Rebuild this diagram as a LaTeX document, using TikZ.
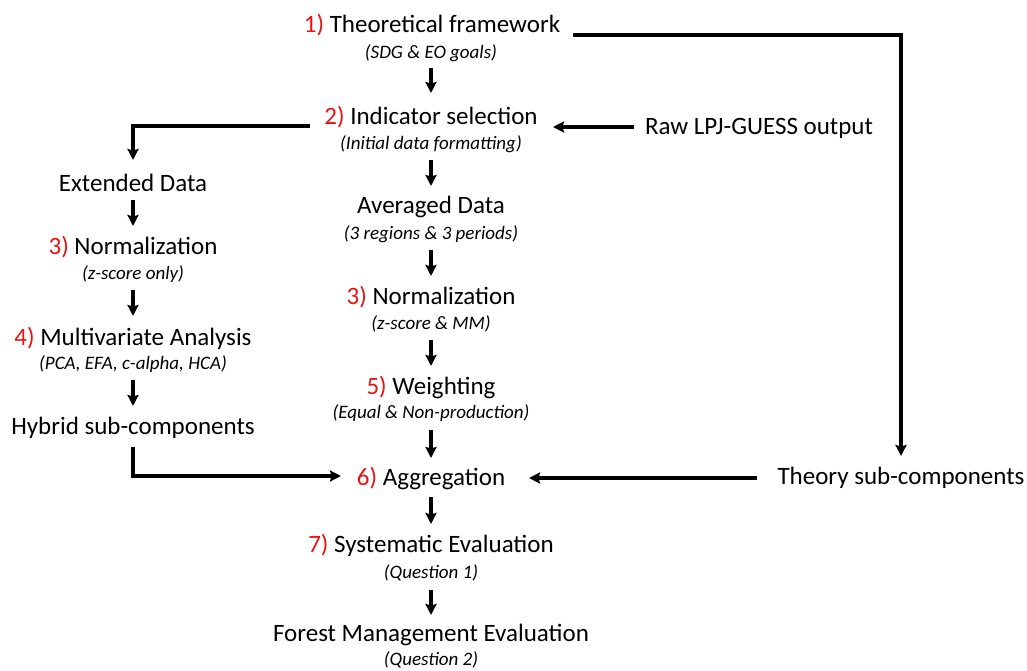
\documentclass[tikz,border=0pt]{standalone}
\usepackage{fontspec}
\setmainfont{Carlito}
\usetikzlibrary{arrows.meta}
\definecolor{numred}{RGB}{230,20,20}
\tikzset{
  ttl/.style={inner sep=0pt, font=\fontsize{25}{28}\selectfont, anchor=center},
  sub/.style={inner sep=0pt, font=\fontsize{19}{22}\selectfont\itshape, anchor=center},
  arr/.style={line width=3.1pt, -{Stealth[length=11pt,width=11pt,inset=1.5pt]}},
}
\newcommand{\num}[1]{\textcolor{numred}{#1)}}
\begin{document}
\begin{tikzpicture}[x=1pt,y=-1pt]
\useasboundingbox (0,0) rectangle (1027,670);
% centre column
\node[ttl] (t1) at (432,25) {\num{1} Theoretical framework};
\node[sub] (s1) at (431,53) {(SDG \& EO goals)};
\node[ttl] (t2) at (431,117) {\num{2} Indicator selection};
\node[sub] (s2) at (431,144) {(Initial data formatting)};
\node[ttl] (t3) at (431,207) {Averaged Data};
\node[sub] (s3) at (431,234) {(3 regions \& 3 periods)};
\node[ttl] (t4) at (431,297) {\num{3} Normalization};
\node[sub] (s4) at (431,324) {(z-score \& MM)};
\node[ttl] (t5) at (431,387) {\num{5} Weighting};
\node[sub] (s5) at (431,413) {(Equal \& Non-production)};
\node[ttl] (t6) at (431,478) {\num{6} Aggregation};
\node[ttl] (t7) at (431,545) {\num{7} Systematic Evaluation};
\node[sub] (s7) at (431,573) {(Question 1)};
\node[ttl] (t8) at (431,635) {Forest Management Evaluation};
\node[sub] (s8) at (431,660) {(Question 2)};
% left column
\node[ttl] (l1) at (133,183) {Extended Data};
\node[ttl] (l2) at (133,247) {\num{3} Normalization};
\node[sub] (l2s) at (133,274) {(z-score only)};
\node[ttl] (l3) at (133,338) {\num{4} Multivariate Analysis};
\node[sub] (l3s) at (133,364) {(PCA, EFA, c-alpha, HCA)};
\node[ttl] (l4) at (133,428) {Hybrid sub-components};
% right
\node[ttl] (raw) at (759,128) {Raw LPJ-GUESS output};
\node[ttl] (th) at (901,478) {Theory sub-components};
% centre arrows
\draw[arr] ([yshift=-15pt]s1.center) -- ([yshift=24pt]t2.center);
\draw[arr] ([yshift=-16pt]s2.center) -- ([yshift=21pt]t3.center);
\draw[arr] ([yshift=-16pt]s3.center) -- ([yshift=21pt]t4.center);
\draw[arr] ([yshift=-16pt]s4.center) -- ([yshift=21pt]t5.center);
\draw[arr] ([yshift=-17pt]s5.center) -- ([yshift=20pt]t6.center);
\draw[arr] ([yshift=-19pt]t6.center) -- ([yshift=21pt]t7.center);
\draw[arr] ([yshift=-17pt]s7.center) -- ([yshift=20pt]t8.center);
% left arrows
\draw[arr] ([xshift=-121pt,yshift=-9pt]t2.center) -| ([yshift=23pt]l1.center);
\draw[arr] ([yshift=-17pt]l1.center) -- ([yshift=21pt]l2.center);
\draw[arr] ([yshift=-16pt]l2s.center) -- ([yshift=22pt]l3.center);
\draw[arr] ([yshift=-16pt]l3s.center) -- ([yshift=22pt]l4.center);
\draw[arr] ([yshift=-19pt]l4.center) |- ([xshift=-90pt,yshift=2pt]t6.center);
% right arrows
\draw[arr] ([xshift=-125pt,yshift=1pt]raw.center) -- ([xshift=122pt,yshift=-10pt]t2.center);
\draw[arr] ([xshift=141pt,yshift=-10pt]t1.center) -| ([yshift=22pt]th.center);
\draw[arr] ([xshift=-144pt]th.center) -- ([xshift=98pt]t6.center);
\end{tikzpicture}
\end{document}
